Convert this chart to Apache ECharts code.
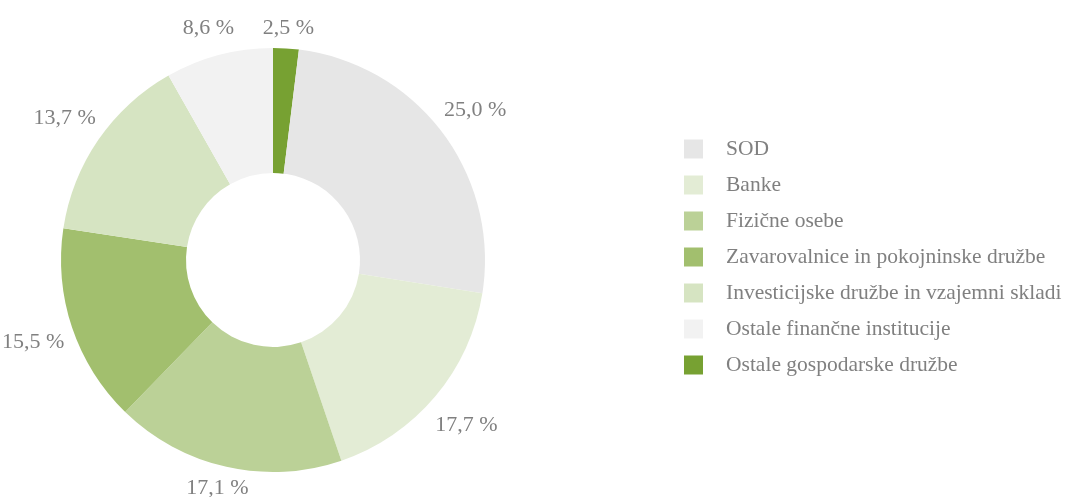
<!DOCTYPE html>
<html>
<head>
<meta charset="utf-8">
<script src="https://cdn.jsdelivr.net/npm/echarts@6/dist/echarts.min.js"></script>
<style>html,body{margin:0;padding:0;background:#fff}#c{width:1070px;height:497px}</style>
</head>
<body>
<div id="c"></div>
<script>
// Data (clockwise from 12 o'clock). Slice sizes; label texts as printed.
const categories = ["Ostale gospodarske družbe", "SOD", "Banke", "Fizične osebe", "Zavarovalnice in pokojninske družbe", "Investicijske družbe in vzajemni skladi", "Ostale finančne institucije"];
const values = [1.95, 25.55, 17.25, 17.5, 15.1, 14.4, 8.2];
const labelTexts = ["2,5 %", "25,0 %", "17,7 %", "17,1 %", "15,5 %", "13,7 %", "8,6 %"];
const colors = ["#77a132", "#e6e6e6", "#e3ecd5", "#bbd197", "#a2bf6e", "#d6e4c2", "#f2f2f2"];
const legendOrder = ["SOD", "Banke", "Fizične osebe", "Zavarovalnice in pokojninske družbe", "Investicijske družbe in vzajemni skladi", "Ostale finančne institucije", "Ostale gospodarske družbe"];

const H = 497;
const chart = echarts.init(document.getElementById('c'), null, {renderer: 'canvas'});
const mainData = categories.map((c, i) => ({name: c, value: values[i], itemStyle: {color: colors[i]}}));
const labelData = categories.map((c, i) => ({name: c, value: values[i], label: {formatter: labelTexts[i]}}));

chart.setOption({
  animation: false,
  backgroundColor: '#ffffff',
  legend: {
    orient: 'vertical',
    left: 684,
    top: 138,
    padding: 0,
    itemWidth: 19,
    itemHeight: 19,
    itemGap: 14,
    icon: 'rect',
    data: legendOrder,
    selectedMode: false,
    textStyle: {fontFamily: 'Liberation Serif', fontSize: 21.5, color: '#808080', padding: [0, 0, 0, 18]}
  },
  series: [
    {
      type: 'pie',
      center: [273, 260],
      radius: [87, 212],
      startAngle: 90,
      clockwise: true,
      silent: true,
      label: {show: false},
      labelLine: {show: false},
      data: mainData
    },
    {
      type: 'pie',
      center: [273, 262],
      radius: [212, 288],
      startAngle: 90,
      clockwise: true,
      silent: true,
      itemStyle: {color: 'rgba(0,0,0,0)'},
      label: {
        show: true,
        position: 'inside',
        fontFamily: 'Liberation Serif',
        fontSize: 22,
        color: '#808080'
      },
      labelLine: {show: false},
      labelLayout: function (p) {
        const r = p.labelRect;
        const cy = r.y + r.height / 2;
        const ny = Math.max(28, Math.min(cy, 488));
        return {y: ny};
      },
      data: labelData
    }
  ]
});
</script>
</body>
</html>
